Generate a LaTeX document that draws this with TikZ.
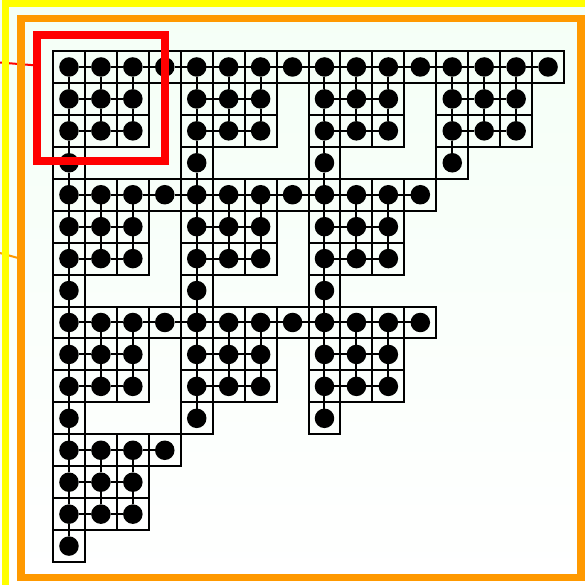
\documentclass[tikz,border=0pt]{standalone}
\usetikzlibrary{calc}
\definecolor{frameyellow}{RGB}{255,255,0}
\definecolor{frameorange}{RGB}{255,153,0}
\definecolor{hlred}{RGB}{255,0,0}
\definecolor{bgtop}{RGB}{244,255,246}
\begin{document}
\begin{tikzpicture}[x=1pt,y=-1pt,
  cellbox/.style={draw=black,line width=2pt,minimum size=31.94pt,inner sep=0pt,outer sep=0pt},
  dot/.style={circle,fill=black,minimum size=19.5pt,inner sep=0pt,outer sep=0pt},
  link/.style={line width=2pt,black},
  lead/.style={line width=2pt},
  framebox/.style={inner sep=0pt,outer sep=0pt}]
\useasboundingbox (0,0) rectangle (585,584);
\clip (0,0) rectangle (585,584);
\shade[top color=bgtop,bottom color=white] (0,0) rectangle (585,584);
% occupancy
\foreach \R in {0,...,15}{\foreach \C in {0,...,15}{
  \pgfmathtruncatemacro\bR{int(\R/4)}
  \pgfmathtruncatemacro\bC{int(\C/4)}
  \pgfmathtruncatemacro\rR{mod(\R,4)}
  \pgfmathtruncatemacro\rC{mod(\C,4)}
  \pgfmathtruncatemacro\pb{(\bR<3)*(\bC<3)+(\bR==0)+(\bC==0)}
  \pgfmathtruncatemacro\pc{(\rR<3)*(\rC<3)+(\rR==0)+(\rC==0)}
  \pgfmathtruncatemacro\occ{min(\pb,1)*min(\pc,1)}
  \expandafter\xdef\csname occ-\R-\C\endcsname{\occ}
}}
% leads from outside
\coordinate (redfree) at (0,62.5);
\coordinate (redend) at (37,65.5);
\draw[lead,hlred] (redfree) -- (redend);
\coordinate (orfree) at (0,253);
\coordinate (orend) at (21,258.8);
\draw[lead,frameorange] (orfree) -- (orend);
% frames
\draw[frameyellow,line width=7pt] (5.5,3.3) rectangle (640,640);
\node[framebox,draw=frameorange,line width=7.5pt,minimum width=560pt,minimum height=559pt] (of) at (301,298) {};
% cells
\foreach \R in {0,...,15}{\foreach \C in {0,...,15}{
  \ifnum\csname occ-\R-\C\endcsname=1\relax
    \node[cellbox] (q-\R-\C) at ({53+31.94*\C+15.97},{51+31.94*\R+15.97}) {};
  \fi
}}
% dots
\foreach \R in {0,...,15}{\foreach \C in {0,...,15}{
  \ifnum\csname occ-\R-\C\endcsname=1\relax
    \node[dot] (c-\R-\C) at (q-\R-\C.center) {};
  \fi
}}
% horizontal links
\foreach \R in {0,...,15}{\foreach \C in {0,...,14}{
  \pgfmathtruncatemacro\Cn{\C+1}
  \ifnum\csname occ-\R-\C\endcsname=1\relax
    \ifnum\csname occ-\R-\Cn\endcsname=1\relax
      \draw[link] (c-\R-\C) -- (c-\R-\Cn);
    \fi
  \fi
}}
% vertical links
\foreach \R in {0,...,14}{\foreach \C in {0,...,15}{
  \pgfmathtruncatemacro\Rn{\R+1}
  \ifnum\csname occ-\R-\C\endcsname=1\relax
    \ifnum\csname occ-\Rn-\C\endcsname=1\relax
      \draw[link] (c-\R-\C) -- (c-\Rn-\C);
    \fi
  \fi
}}
% highlight box
\node[framebox,draw=hlred,line width=7.5pt,minimum width=128pt,minimum height=126pt] (hl) at (101,98) {};
\end{tikzpicture}
\end{document}
